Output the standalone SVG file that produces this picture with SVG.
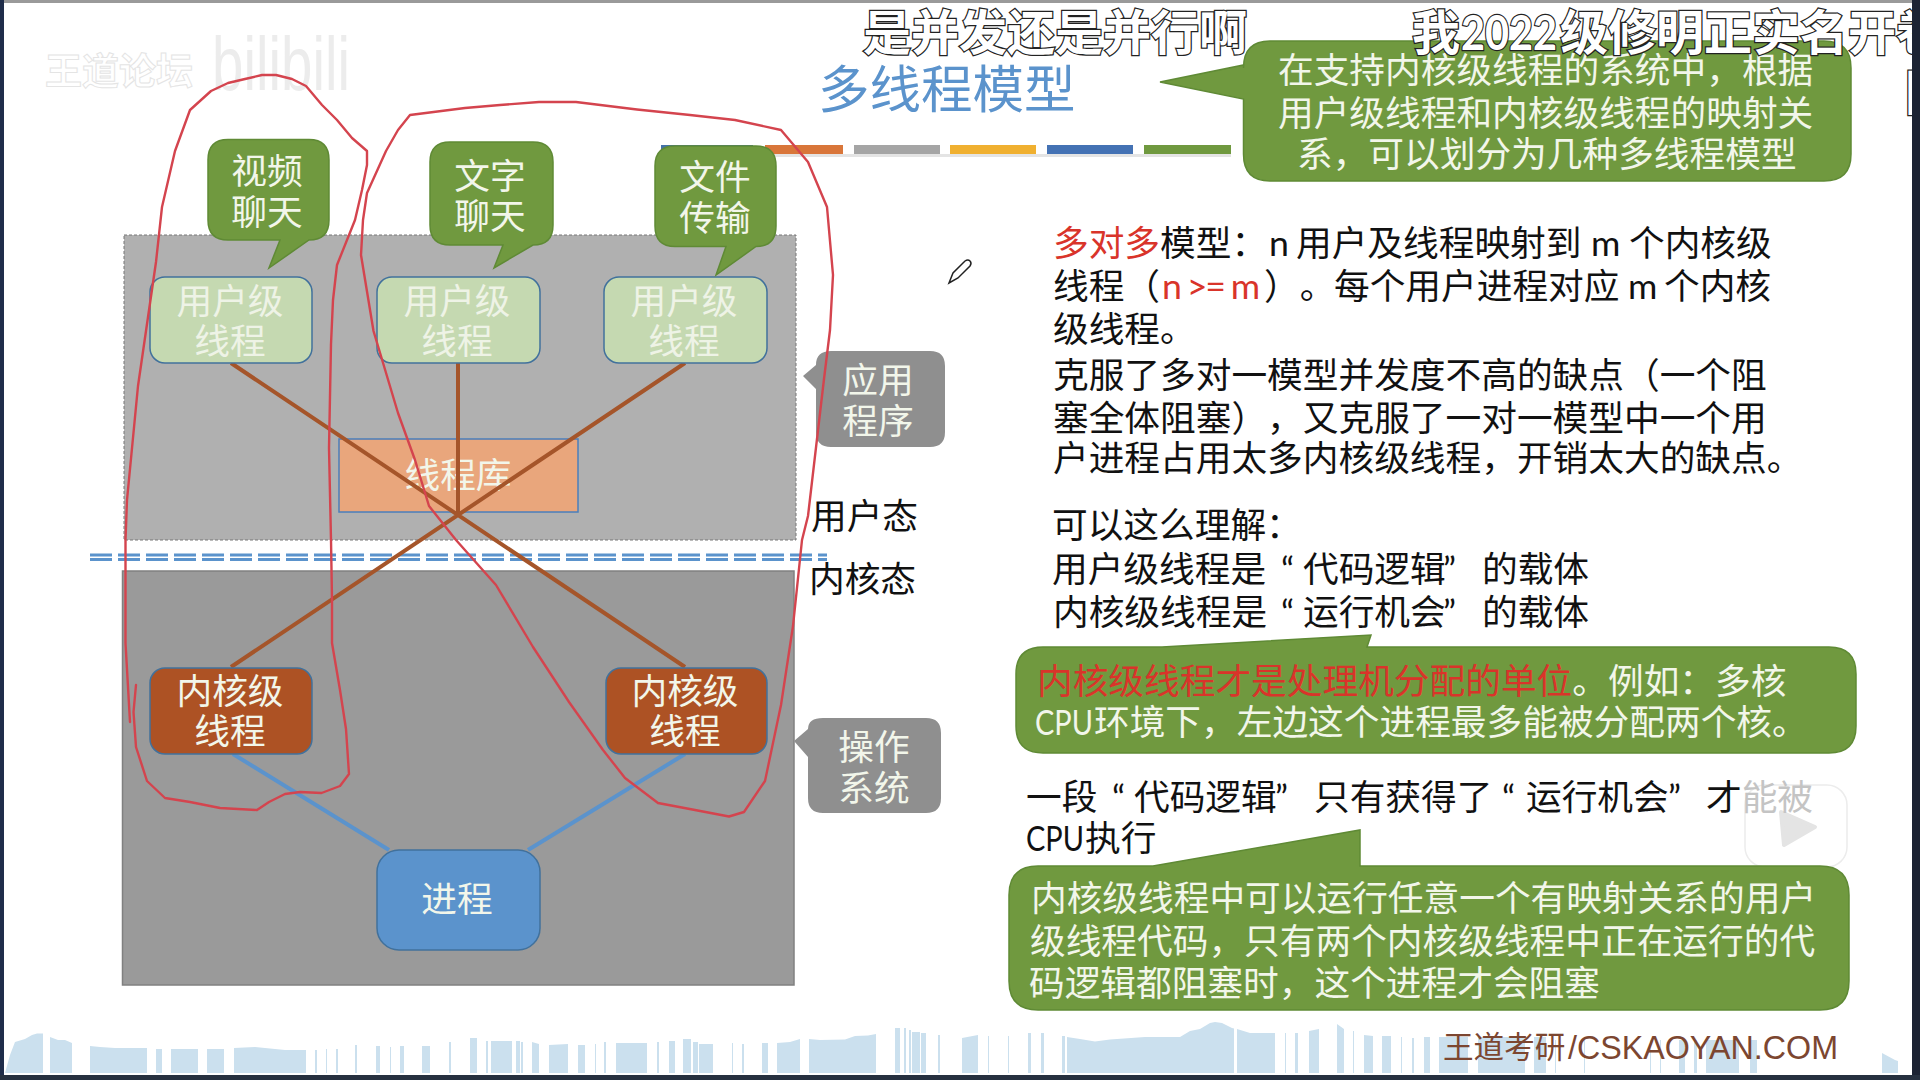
<svg xmlns="http://www.w3.org/2000/svg" width="1920" height="1080" viewBox="0 0 1920 1080">
<style>
text{font-family:"Lato","Noto Sans CJK SC",sans-serif;font-size:35.7px;fill:#111;text-spacing-trim:space-all}
.c{text-anchor:middle}
.w{fill:#f2f6ea}
.pale{fill:#eef3e6}
.r{fill:#d9342a}
.box{stroke:#41719c;stroke-width:1.5}
.green{fill:#70993f;stroke:#5f8a35;stroke-width:1.5}
.gray{fill:#8f8f8f}
.br{stroke:#a5552a;stroke-width:4;fill:none}
.bl{stroke:#5b93cc;stroke-width:4;fill:none}
.dash{stroke:#5b93cc;stroke-width:3;stroke-dasharray:22 6;fill:none}
.ink{stroke:#d4444e;stroke-width:2.4;fill:none;stroke-linejoin:round;stroke-linecap:round}
.dm{font-size:48px;font-weight:700;fill:#fff;stroke:#222;stroke-width:2.5px;paint-order:stroke}
.sky{fill:#cbe0ee}
</style>
<rect width="1920" height="1080" fill="#fff"/>
<rect width="1920" height="3" fill="#9a9a9a"/>

<g id="skyline" class="sky">
<path d="M5 1073L10 1055L15 1042L25 1039L32 1035L37 1033.500L43 1033.500V1073ZM50 1037L58 1040L65 1040L72 1043V1073H50ZM90 1046L100 1047L115 1048H147V1073H90ZM156 1049h6v24h-6ZM171 1049h27v24h-27ZM207 1049h17v24h-17ZM234 1048L255 1047L285 1050H306V1073H234ZM315 1050h2v23h-2ZM326 1049h1v24h-1ZM336 1049h2v24h-2ZM355 1045h2v28h-2ZM376 1046h4v27h-4ZM390 1047h1v26h-1ZM400 1046h4v27h-4ZM422 1046h8v27h-8ZM449 1042h2v31h-2ZM470 1038h7v35h-7ZM486 1041h2v32h-2ZM491 1041h21v32h-21ZM516 1041h4v32h-4ZM521 1042h2v31h-2ZM532 1042L539 1044V1073H532ZM549 1045L568 1044V1073H549ZM578 1045h7v28h-7ZM595 1044h1v29h-1ZM604 1042h2v31h-2ZM616 1043H647V1073H616ZM657 1042h2v31h-2ZM669 1041h6v32h-6ZM683 1039h8v34h-8ZM693 1042h5v31h-5ZM699 1044h14v29h-14ZM732 1043h1v30h-1ZM742 1044h2v29h-2ZM762 1043h6v30h-6ZM777 1043L790 1042L800 1039V1073H777ZM809 1039L820 1040L845 1039.500L855 1036L868 1035.500L876 1034V1073H809ZM895 1028h5v45h-5ZM904 1028h2v45h-2ZM909 1030h2v43h-2ZM912 1032h8v41h-8ZM921 1033h5v40h-5ZM938 1035h2v38h-2ZM962 1038L978 1035V1073H962ZM988 1036h1v37h-1ZM1008 1036h1v37h-1ZM1028 1033h3v40h-3ZM1041 1033h3v40h-3ZM1062 1036h3v37h-3ZM1067 1037L1080 1039L1095 1041.500L1110 1039.500L1145 1037L1180 1037L1190 1031L1200 1029L1210 1023L1215 1022L1222 1023L1232 1028L1234 1028.500V1073H1067ZM1237 1029L1250 1033H1275V1073H1237ZM1285 1033h1v40h-1ZM1295 1033h3v40h-3ZM1309 1031L1319 1029V1073H1309ZM1337 1024L1344 1029V1073H1337ZM1353 1031h1v42h-1ZM1364 1035L1373 1036V1073H1364ZM1382 1036h9v37h-9ZM1401 1037h1v36h-1ZM1412 1038h2v35h-2ZM1424 1037h6v36h-6ZM1439 1037h29v36h-29ZM1478 1037h47v36h-47ZM1534 1037h12v36h-12ZM1555 1040h1v33h-1ZM1584 1040h1v33h-1ZM1650 1040h1v33h-1ZM1660 1040h1v33h-1ZM1679 1040h6v33h-6ZM1694 1040h3v33h-3ZM1706 1040h33v33h-33ZM1750 1040h7v33h-7ZM1882 1053L1895 1060L1898 1061V1073H1882Z"/>
</g>

<g id="watermark">
<text x="45" y="85" style="font-size:37px;font-weight:700;fill:#fff;stroke:#e4e4e4;stroke-width:1px">王道论坛</text>
<text x="212" y="90" textLength="138" lengthAdjust="spacingAndGlyphs" style="font-family:'Liberation Sans',sans-serif;font-size:76px;fill:#ececec">bilibili</text>
</g>

<g id="title">
<text x="818" y="107.500" style="font-size:51.500px;fill:#5b93cc">多线程模型</text>
<rect x="661" y="145" width="92" height="9" fill="#4472a8"/>
<rect x="765" y="145" width="78" height="9" fill="#d9763a"/>
<rect x="854" y="145" width="86" height="9" fill="#a5a5a5"/>
<rect x="950" y="145" width="86" height="9" fill="#f0b030"/>
<rect x="1047" y="145" width="86" height="9" fill="#4472b4"/>
<rect x="1144" y="145" width="87" height="9" fill="#70993f"/>
<rect x="765" y="154" width="466" height="3" fill="#e4e4e4"/>
</g>

<g id="user-space"><rect x="124" y="235" width="672" height="305" fill="#b0b0b0" stroke="#777" stroke-width="1" stroke-dasharray="3 2"/></g>
<g id="kernel-space"><rect x="122.500" y="571" width="671.500" height="414" fill="#9a9a9a" stroke="#808080" stroke-width="1.500"/></g>
<g id="boundary">
<path class="dash" d="M90 555H827M90 559.500H827"/>
</g>

<g id="thread-library">
<rect x="339" y="439" width="239" height="73" fill="#e9a67c" stroke="#4a7ebb" stroke-width="1.500"/>
<text class="c w" x="458" y="488">线程库</text>
</g>

<g id="connectors">
<path class="br" d="M231 363L685 667M685 363L231 667M458 363V515"/>
<path class="bl" d="M233 754L389 850M685 754L528 850"/>
</g>

<g id="user-thread-1"><rect class="box" x="150" y="277" width="162" height="86" rx="15" fill="#c5d9b1"/><text class="c pale" x="230" y="314">用户级</text><text class="c pale" x="230" y="354">线程</text></g>
<g id="user-thread-2"><rect class="box" x="377" y="277" width="163" height="86" rx="15" fill="#c5d9b1"/><text class="c pale" x="457" y="314">用户级</text><text class="c pale" x="457" y="354">线程</text></g>
<g id="user-thread-3"><rect class="box" x="604" y="277" width="163" height="86" rx="15" fill="#c5d9b1"/><text class="c pale" x="684" y="314">用户级</text><text class="c pale" x="684" y="354">线程</text></g>
<g id="kernel-thread-1"><rect class="box" x="150" y="668" width="162" height="86" rx="15" fill="#ad5224"/><text class="c w" x="230" y="704">内核级</text><text class="c w" x="230" y="744">线程</text></g>
<g id="kernel-thread-2"><rect class="box" x="606" y="668" width="161" height="86" rx="15" fill="#ad5224"/><text class="c w" x="685" y="704">内核级</text><text class="c w" x="685" y="744">线程</text></g>
<g id="process"><rect class="box" x="377" y="850" width="163" height="100" rx="22" fill="#5b93cc"/><text class="c w" x="457" y="912">进程</text></g>

<g id="bubble-video">
<path class="green" d="M228 139.500H309Q329 139.500 329 160V220Q329 240 309 240L269 268L280 240H228Q208 240 208 220V160Q208 139.500 228 139.500Z"/>
<text class="c w" x="267" y="184">视频</text><text class="c w" x="267" y="225">聊天</text>
</g>
<g id="bubble-text">
<path class="green" d="M450 142H533Q553 142 553 162V225Q553 245 533 245L494 268L503 245H450Q430 245 430 225V162Q430 142 450 142Z"/>
<text class="c w" x="490" y="189">文字</text><text class="c w" x="490" y="229">聊天</text>
</g>
<g id="bubble-file">
<path class="green" d="M675 146H756Q776 146 776 166V226Q776 246.500 756 246.500L716 275L726 246.500H675Q655 246.500 655 226V166Q655 146 675 146Z"/>
<text class="c w" x="715" y="190">文件</text><text class="c w" x="715" y="231">传输</text>
</g>

<g id="callout-app">
<path class="gray" d="M831 351H930Q945 351 945 366V432Q945 447 930 447H831Q816 447 816 432V389L803 376L816 365Q816 351 831 351Z"/>
<text class="c w" x="878" y="393">应用</text><text class="c w" x="878" y="434">程序</text>
</g>
<g id="callout-os">
<path class="gray" d="M823 718H926Q941 718 941 733V798Q941 813 926 813H823Q808 813 808 798V757L794 741L808 729Q808 718 823 718Z"/>
<text class="c w" x="874" y="760">操作</text><text class="c w" x="874" y="801">系统</text>
</g>
<text x="811" y="529">用户态</text>
<text x="809" y="592">内核态</text>

<g id="annotations">
<polyline class="ink" points="130,722 125.500,643 125.500,540 127,500 138,386 156,262 162,207 175,151 190,110 211,91 228,83 245,79 262,75 276,75 292,79 306,86 322,105 337,120 352,138 367,151 367,165 362,190 355,220 337,265 333,300 331,344 329,448 331,540 332,600 332,643 340,690 346,729 349,774 340,786 321.500,793 300,792 285,794 269,802 257,810 220,808 190,802 165,798 147,781 136,747 133.500,712 136,685"/>
<polyline class="ink" points="729,816.500 695,810 658,803 625,778 603,750 569,702 533,647 496,585 456,540 429,506 415,460 398,413 373.500,331 361,255 363,220 367,193 386,151 398,130 410,115 465,108 500,105 539,102 576,102 637,109.500 690,115 735,120 781,130 808,162 827,207 833,275 830,330 824,379 808,516 802,540 793,626 781,705 765,781 744,812 729,816.500"/>
</g>

<g id="note-top">
<path class="green" d="M1270 41H1824Q1851 41 1851 68V154Q1851 181 1824 181H1270Q1243.500 181 1243.500 154V99L1160 82L1243.500 65V68Q1243.500 41 1270 41Z"/>
<text class="w" x="1278" y="83">在支持内核级线程的系统中，根据</text>
<text class="w" x="1278" y="126">用户级线程和内核级线程的映射关</text>
<text class="w" x="1297" y="167">系，可以划分为几种多线程模型</text>
</g>

<g id="bilibili-badge">
<path d="M1773 773L1788 790M1818 773L1803 790" stroke="#fff" stroke-width="11" stroke-linecap="round" fill="none"/>
<rect x="1745" y="785" width="102" height="82" rx="20" fill="#fff" stroke="#ececec" stroke-width="1.500"/>
<path d="M1781 812L1815 827L1784 845Z" fill="#e4e4e4" stroke="#e4e4e4" stroke-width="4" stroke-linejoin="round"/>
</g>

<g id="main-text">
<text y="256"><tspan class="r" x="1053">多对多</tspan><tspan>模型：</tspan><tspan x="1269">n</tspan><tspan x="1296">用户及线程映射到</tspan><tspan x="1591">m</tspan><tspan x="1629">个内核级</tspan></text>
<text y="299"><tspan x="1053">线程（</tspan><tspan class="r" x="1162" textLength="98">n &gt;= m</tspan><tspan x="1264">）。</tspan><tspan x="1334">每个用户进程对应</tspan><tspan x="1628">m</tspan><tspan x="1664">个内核</tspan></text>
<text x="1053" y="342">级线程。</text>
<text x="1053" y="388">克服了多对一模型并发度不高的缺点（一个阻</text>
<text x="1053" y="431">塞全体阻塞），又克服了一对一模型中一个用</text>
<text x="1053" y="471">户进程占用太多内核级线程，开销太大的缺点。</text>
<text x="1052" y="538">可以这么理解：</text>
<text y="582"><tspan x="1052">用户级线程是</tspan><tspan x="1281">“</tspan><tspan x="1303">代码逻辑</tspan><tspan x="1443">”</tspan><tspan x="1482">的载体</tspan></text>
<text y="625"><tspan x="1053">内核级线程是</tspan><tspan x="1281">“</tspan><tspan x="1303">运行机会</tspan><tspan x="1443">”</tspan><tspan x="1482">的载体</tspan></text>
</g>

<g id="note-cpu">
<path class="green" d="M1043 647H1162L1371 635L1367 647H1829Q1856 647 1856 674V726Q1856 753 1829 753H1043Q1016 753 1016 726V674Q1016 647 1043 647Z"/>
<text y="694"><tspan class="r" x="1037">内核级线程才是处理机分配的单位</tspan><tspan class="w">。例如：多核</tspan></text>
<text class="w" y="735"><tspan x="1035" textLength="58" lengthAdjust="spacingAndGlyphs">CPU</tspan><tspan x="1094">环境下，左边这个进程最多能被分配两个核。</tspan></text>
</g>

<g id="middle-text">
<text y="810"><tspan x="1026">一段</tspan><tspan x="1112">“</tspan><tspan x="1134">代码逻辑</tspan><tspan x="1275">”</tspan><tspan x="1314">只有获得了</tspan><tspan x="1502">“</tspan><tspan x="1526">运行机会</tspan><tspan x="1668">”</tspan><tspan x="1706">才</tspan><tspan style="fill:#c4c4c4">能被</tspan></text>
<text y="851"><tspan x="1026" textLength="58" lengthAdjust="spacingAndGlyphs">CPU</tspan><tspan x="1085">执行</tspan></text>
</g>

<g id="note-block">
<path class="green" d="M1038 866H1153L1360 830V866H1820Q1849 866 1849 895V981Q1849 1010 1820 1010H1038Q1009 1010 1009 981V895Q1009 866 1038 866Z"/>
<text class="w" x="1031" y="911">内核级线程中可以运行任意一个有映射关系的用户</text>
<text class="w" x="1030" y="954">级线程代码，只有两个内核级线程中正在运行的代</text>
<text class="w" x="1029" y="996">码逻辑都阻塞时，这个进程才会阻塞</text>
</g>

<g id="pen">
<path d="M949 283L953 273L965 261Q968 259 970 261Q972 263 970 266L958 278Z" fill="#fff" stroke="#222" stroke-width="1.500"/>
</g>

<text x="1443" y="1058" style="font-size:30.600px;fill:#7c4630">王道考研</text>
<text x="1568" y="1059" textLength="270" lengthAdjust="spacingAndGlyphs" style="font-family:'Liberation Sans',sans-serif;font-size:34px;fill:#7c4630">/CSKAOYAN.COM</text>

<g id="danmaku">
<text class="dm" x="863" y="50">是并发还是并行啊</text>
<text class="dm" y="50"><tspan x="1412">我</tspan><tspan x="1461" textLength="96" lengthAdjust="spacingAndGlyphs">2022</tspan><tspan x="1560">级修明正实名开卷</tspan></text>
<text class="dm" x="1905" y="110">因</text>
</g>

<g id="frame">
<rect x="0" y="0" width="4" height="1080" fill="#1f2d4a"/>
<rect x="1912" y="0" width="8" height="1080" fill="#1c2333"/>
<rect x="0" y="1075" width="1920" height="5" fill="#26303f"/>
</g>
</svg>
